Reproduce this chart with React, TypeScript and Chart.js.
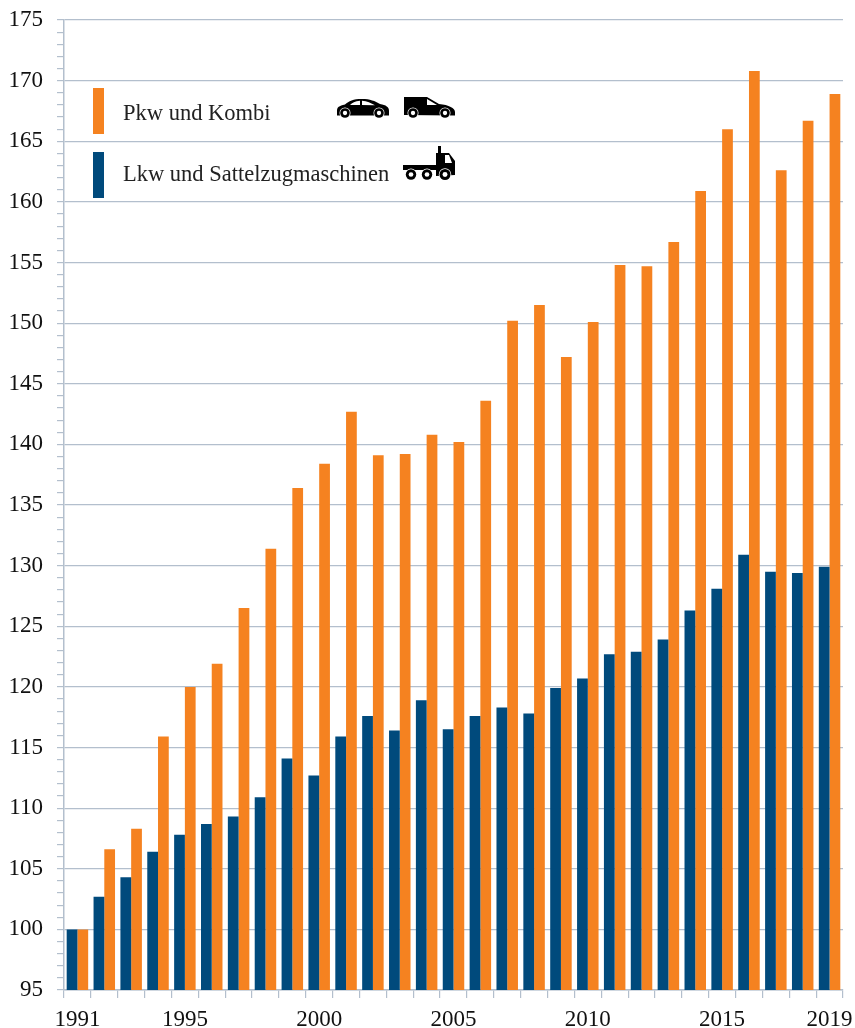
import React, { useEffect, useRef } from "react";
import { Chart, registerables } from "chart.js";

Chart.register(...registerables);

const years = ["1991","1992","1993","1994","1995","1996","1997","1998","1999","2000","2001","2002","2003","2004","2005","2006","2007","2008","2009","2010","2011","2012","2013","2014","2015","2016","2017","2018","2019"];
const shownYears = ["1991","1995","2000","2005","2010","2015","2019"];
const lkw = [100,102.7,104.3,106.4,107.8,108.7,109.3,110.9,114.1,112.7,115.9,117.6,116.4,118.9,116.5,117.6,118.3,117.8,119.9,120.7,122.7,122.9,123.9,126.3,128.1,130.9,129.5,129.4,129.9];
const pkw = [100,106.6,108.3,115.9,120,121.9,126.5,131.4,136.4,138.4,142.7,139.1,139.2,140.8,140.2,143.6,150.2,151.5,147.2,150.1,154.8,154.7,156.7,160.9,166,170.8,162.6,166.7,168.9];

const BLUE = "#004a7c";
const ORANGE = "#f58220";
const GRID = "#b3bfcd";
const FONT = '"Liberation Serif", serif';

function wheel(ctx: CanvasRenderingContext2D, x: number, y: number, r: number) {
  ctx.fillStyle = "#fff";
  ctx.beginPath(); ctx.arc(x, y, r + 0.7, 0, Math.PI * 2); ctx.fill();
  ctx.fillStyle = "#000";
  ctx.beginPath(); ctx.arc(x, y, r, 0, Math.PI * 2); ctx.fill();
  ctx.fillStyle = "#fff";
  ctx.beginPath(); ctx.arc(x, y, r * 0.45, 0, Math.PI * 2); ctx.fill();
}

function paint(ctx: CanvasRenderingContext2D, color: string, d: string) {
  ctx.fillStyle = color;
  ctx.fill(new Path2D(d));
}

const legendPlugin = {
  id: "sideLegend",
  afterDraw(chart: any) {
    const ctx: CanvasRenderingContext2D = chart.ctx;
    ctx.save();
    const rows = [
      { ds: chart.data.datasets[1], top: 88, baseline: 119.5 },
      { ds: chart.data.datasets[0], top: 152, baseline: 181 },
    ];
    for (const r of rows) {
      ctx.fillStyle = r.ds.backgroundColor;
      ctx.fillRect(93, r.top, 11, 46);
      ctx.fillStyle = "#222";
      ctx.font = `22.5px ${FONT}`;
      ctx.textBaseline = "alphabetic";
      ctx.textAlign = "left";
      ctx.fillText(r.ds.label, 123, r.baseline);
    }
    // car
    paint(ctx, "#000", "M337 111 C337 107 339 106 345 104.5 C349 101 353 99 362 99 C370 99 375 101 380 104 C386 105 389 107 389 111 L389 115.5 L337 115.5 Z");
    paint(ctx, "#fff", "M350 105 C352 103 355 101 360 100.7 L360 105 Z M362 100.7 C367 100.7 371 103 375 105.3 L362 105 Z");
    wheel(ctx, 345, 113, 4.8);
    wheel(ctx, 379, 113, 4.8);
    // van
    paint(ctx, "#000", "M404 97 L427 97 L439 104 C449 105 455 108 455 112 L455 115.5 L404 115 Z");
    paint(ctx, "#fff", "M427 99 L437 105 L427 105 Z");
    wheel(ctx, 413, 113, 4.8);
    wheel(ctx, 445, 113, 4.8);
    // truck
    paint(ctx, "#000", "M438 146 L441 146 L441 153 L449 153 L455 161 L455 175 L436 176 L436 170 L403 170 L403 165 L436 165 L436 153 L438 153 Z");
    paint(ctx, "#fff", "M445 155 L449 155 L452 163 L445 163 Z");
    wheel(ctx, 411, 174.5, 5.2);
    wheel(ctx, 427, 174.5, 5.2);
    wheel(ctx, 445, 174.5, 5.5);
    ctx.restore();
  },
};

export default function App() {
  const ref = useRef<HTMLCanvasElement>(null);
  useEffect(() => {
    const chart = new Chart(ref.current!, {
      type: "bar",
      data: {
        labels: years,
        datasets: [
          { label: "Lkw und Sattelzugmaschinen", data: lkw, backgroundColor: BLUE },
          { label: "Pkw und Kombi", data: pkw, backgroundColor: ORANGE },
        ],
      },
      options: {
        animation: false,
        responsive: false,
        layout: { padding: { top: 20, right: 12, left: 0, bottom: 0 } },
        plugins: { legend: { display: false }, tooltip: { enabled: false }, title: { display: false } },
        datasets: { bar: { categoryPercentage: 0.8, barPercentage: 1 } },
        scales: {
          x: {
            offset: true,
            afterFit: (s: any) => { s.height = 38; s.paddingLeft = 0; s.paddingRight = 0; },
            border: { color: GRID, width: 1.5 },
            grid: { offset: true, drawOnChartArea: false, color: GRID, tickLength: 8, lineWidth: 1.2 },
            ticks: {
              autoSkip: false, maxRotation: 0, minRotation: 0, padding: 8, color: "#111",
              font: { family: FONT, size: 23 },
              callback(_v: any, i: number) { return shownYears.includes(years[i]) ? years[i] : ""; },
            },
          },
          y: {
            min: 95, max: 175,
            afterFit: (s: any) => { s.width = 64; s.paddingTop = 0; s.paddingBottom = 0; },
            border: { color: GRID, width: 1.5 },
            grid: {
              color: (c: any) => (c.tick && c.tick.value % 5 === 0 ? GRID : "transparent"),
              tickColor: GRID, tickLength: 7, lineWidth: 1.2,
            },
            ticks: {
              stepSize: 1, autoSkip: false, padding: 14, color: "#111",
              font: { family: FONT, size: 23 },
              callback(v: any) { return Number(v) % 5 === 0 ? String(v) : ""; },
            },
          },
        },
      },
      plugins: [legendPlugin],
    } as any);
    return () => chart.destroy();
  }, []);
  return (
    <div style={{ position: "absolute", left: 0, top: 0, width: 855, height: 1028 }}>
      <canvas ref={ref} width={855} height={1028} style={{ display: "block" }} />
    </div>
  );
}
